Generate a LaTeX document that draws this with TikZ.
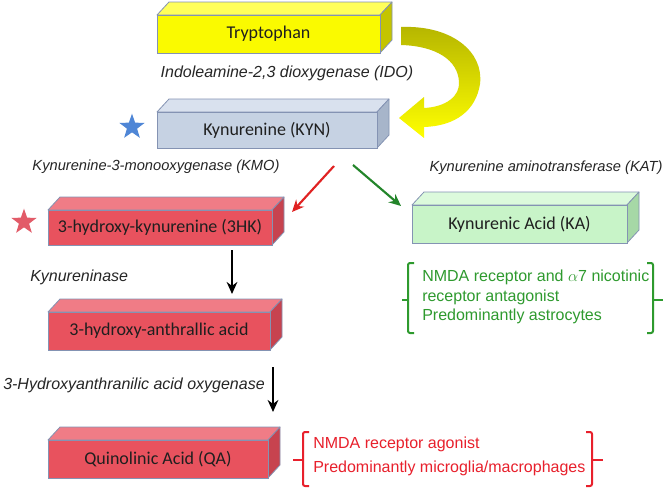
\documentclass[tikz,border=0pt]{standalone}
\usepackage{fontspec}
\setmainfont{Liberation Sans}
\newfontfamily\boxfont{Carlito}
\usetikzlibrary{shapes.geometric,arrows.meta}
\definecolor{edge}{HTML}{8493B3}
\definecolor{trpF}{HTML}{FAFA00}
\definecolor{trpT}{HTML}{FFFF5A}
\definecolor{trpS}{HTML}{C4C400}
\definecolor{kynF}{HTML}{C6D2E3}
\definecolor{kynT}{HTML}{D9E1EE}
\definecolor{kynS}{HTML}{A7B5CA}
\definecolor{redF}{HTML}{E8525E}
\definecolor{redT}{HTML}{F07C86}
\definecolor{redS}{HTML}{C7434F}
\definecolor{kaF}{HTML}{C8F4C8}
\definecolor{kaT}{HTML}{DCFADC}
\definecolor{kaS}{HTML}{A6D8A6}
\definecolor{txtgreen}{HTML}{2E9A2E}
\definecolor{txtred}{HTML}{E8202C}
\definecolor{arrred}{HTML}{E02222}
\definecolor{arrgreen}{HTML}{23852A}
\definecolor{olivey}{HTML}{B5B500}
\definecolor{staryellow}{HTML}{FFFF00}
\definecolor{starblue}{HTML}{4F86D6}
\definecolor{starred}{HTML}{E25B68}
\newcommand\cubebox[7]{%
  \path[fill=#6T,draw=edge,line width=0.6pt,line join=round] (#2,#3) -- (#2+12,#3-13) -- (#4+12,#3-13) -- (#4,#3) -- cycle;
  \path[fill=#6S,draw=edge,line width=0.6pt,line join=round] (#4,#3) -- (#4+12,#3-13) -- (#4+12,#5-13) -- (#4,#5) -- cycle;
  \node[boxface,fill=#6F,minimum width={(#4-#2)*0.75pt},minimum height={(#5-#3)*0.75pt}] (#1) at ({(#2+#4)/2},{(#3+#5)/2}) {#7};
}
\begin{document}
\begin{tikzpicture}[x=0.75pt,y=-0.75pt,
  boxface/.style={draw=edge,line width=0.6pt,inner sep=0pt,outer sep=0pt,font=\boxfont\fontsize{13.5}{16}\selectfont,text=black!88},
  enz/.style={font=\itshape\fontsize{12}{14}\selectfont,text=black!85,inner sep=0pt},
  enzs/.style={font=\itshape\fontsize{11}{13}\selectfont,text=black!85,inner sep=0pt},
  flow/.style={line width=1.6pt,-{Stealth[length=9pt,width=8pt]}},
  brk/.style={line width=1.5pt,rounded corners=1.5pt},
  note/.style={font=\fontsize{12}{14}\selectfont,align=left,anchor=north west,inner sep=0pt},
  starshape/.style={star,star points=5,star point ratio=2.5,inner sep=0pt,draw=none}]
\useasboundingbox[fill=white] (0,0) rectangle (667,489);

% yellow curved arrow
\shade[top color=olivey,bottom color=staryellow,draw=none]
  (401,27) .. controls (452,25) and (484,52) .. (480,84)
  .. controls (476,110) and (456,126) .. (424,127)
  -- (424,138) -- (399,118) -- (424,97) -- (424,108)
  .. controls (446,107) and (460,96) .. (459,82)
  .. controls (458,60) and (436,46) .. (401,45) -- cycle;

% boxes
\cubebox{trp}{157}{15}{380}{53}{trp}{Tryptophan}
\cubebox{kyn}{157}{112}{377}{148}{kyn}{Kynurenine (KYN)}
\cubebox{hk}{48}{210}{272}{245}{red}{3-hydroxy-kynurenine (3HK)}
\cubebox{ka}{412}{205}{627}{243}{ka}{Kynurenic Acid (KA)}
\cubebox{ant}{48}{312}{270}{350}{red}{3-hydroxy-anthrallic acid}
\cubebox{qa}{48}{440}{268}{478}{red}{Quinolinic Acid (QA)}

% stars
\node[starshape,fill=starblue,minimum size=20pt] (s1) at (132,127) {};
\node[starshape,fill=starred,minimum size=20pt] (s2) at (24,222) {};

% enzyme labels
\node[enz] (ido) at (287,73) {Indoleamine-2,3 dioxygenase (IDO)};
\node[enzs] (kmo) at (156,167) {Kynurenine-3-monooxygenase (KMO)};
\node[enzs] (kat) at (546,168) {Kynurenine aminotransferase (KAT)};
\node[enz,anchor=west] (kyase) at (30,277) {Kynureninase};
\node[enz,anchor=west] (haao) at (3,385) {3-Hydroxyanthranilic acid oxygenase};

% arrows
\coordinate (r1) at (334,166);
\coordinate (r2) at (292,212);
\coordinate (g1) at (353,165);
\coordinate (g2) at (401,206);
\coordinate (b1) at (232,250);
\coordinate (b2) at (232,294);
\coordinate (c1) at (273,367);
\coordinate (c2) at (273,412);
\draw[flow,arrred] (r1) -- (r2);
\draw[flow,arrgreen] (g1) -- (g2);
\draw[flow,black] (b1) -- (b2);
\draw[flow,black] (c1) -- (c2);

% green note
\node[note,text=txtgreen] (gnote) at (422,270) {NMDA receptor and $\alpha$7 nicotinic\\[1pt]receptor antagonist\\[0pt]Predominantly astrocytes};
\draw[brk,txtgreen] (414,263) -- (408,263) -- (408,333) -- (414,333);
\draw[brk,txtgreen] (408,300) -- (402,300);
\draw[brk,txtgreen] (647,263) -- (653,263) -- (653,333) -- (647,333);
\draw[brk,txtgreen] (653,300) -- (663,300);

% red note
\node[note,text=txtred] (rnote) at (313,437) {NMDA receptor agonist\\[4pt]Predominantly microglia/macrophages};
\draw[brk,txtred] (309,432) -- (303,432) -- (303,486) -- (309,486);
\draw[brk,txtred] (303,460) -- (293,460);
\draw[brk,txtred] (586,432) -- (592,432) -- (592,486) -- (586,486);
\draw[brk,txtred] (592,460) -- (603,460);
\end{tikzpicture}
\end{document}
